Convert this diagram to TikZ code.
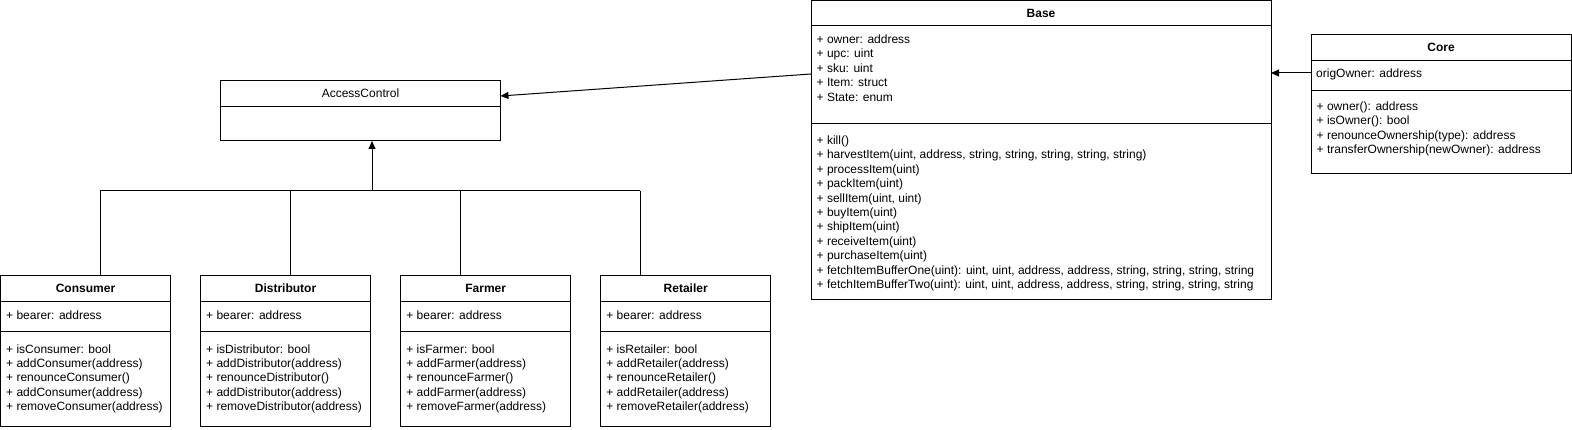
\documentclass[tikz,border=0pt]{standalone}
\usepackage{fontspec}
\setmainfont{Liberation Sans}
\usetikzlibrary{arrows.meta,calc}
\tikzset{
  umlbox/.style={draw, line width=1pt, rectangle, anchor=north west, inner sep=0pt, outer sep=0pt},
  txt/.style={anchor=base west, inner sep=0pt, font=\fontsize{12}{14.4}\selectfont},
  head/.style={anchor=base, inner sep=0pt, font=\fontsize{12}{14.4}\selectfont\bfseries},
  headn/.style={anchor=base, inner sep=0pt, font=\fontsize{12}{14.4}\selectfont},
  sepline/.style={line width=1pt},
  arr/.style={line width=1pt, -{Triangle[length=8pt,width=7pt]}},
  conn/.style={line width=1pt}
}
\newcommand{\umllines}[4]{%
  \foreach \t [count=\i] in {#4} {\node[txt] (#1\i) at (#2, #3+14.4*\i-14.4) {\t};}}
\newcommand{\umlsep}[2]{%
  \draw[sepline] ($(#1.north west)+(0,#2)$) -- ($(#1.north east)+(0,#2)$);}
\begin{document}
\begin{tikzpicture}[x=1pt,y=-1pt]
\useasboundingbox (0,0) rectangle (1572,430);

% ---------- AccessControl ----------
\node[umlbox, minimum width=280pt, minimum height=60pt] (ac) at (220.5,81) {};
\node[headn] (acH) at (360.5,97.5) {AccessControl};
\umlsep{ac}{26}

% ---------- Base ----------
\node[umlbox, minimum width=460pt, minimum height=299pt] (base) at (811,1) {};
\node[head] (baseH) at (1041,18) {Base};
\umlsep{base}{25}
\umlsep{base}{123}
\umllines{ba}{816.5}{43.5}{{+ owner: address},{+ upc: uint},{+ sku: uint},{+ Item: struct},{+ State: enum}}
\umllines{bm}{816.5}{144.5}{{+ kill()},{+ harvestItem(uint, address, string, string, string, string, string)},{+ processItem(uint)},{+ packItem(uint)},{+ sellItem(uint, uint)},{+ buyItem(uint)},{+ shipItem(uint)},{+ receiveItem(uint)},{+ purchaseItem(uint)},{+ fetchItemBufferOne(uint): uint, uint, address, address, string, string, string, string},{+ fetchItemBufferTwo(uint): uint, uint, address, address, string, string, string, string}}

% ---------- Core ----------
\node[umlbox, minimum width=260pt, minimum height=139pt] (core) at (1311,35) {};
\node[head] (coreH) at (1441,52) {Core};
\umlsep{core}{25.5}
\umlsep{core}{55.7}
\umllines{ca}{1316}{78}{{origOwner: address}}
\umllines{cm}{1316.5}{110.5}{{+ owner(): address},{+ isOwner(): bool},{+ renounceOwnership(type): address},{+ transferOwnership(newOwner): address}}

% ---------- Consumer ----------
\node[umlbox, minimum width=170pt, minimum height=150pt] (cons) at (0.5,276) {};
\node[head] (consH) at (85.5,293) {Consumer};
\umlsep{cons}{26}
\umlsep{cons}{56}
\umllines{consa}{6}{320}{{+ bearer: address}}
\umllines{consm}{6}{353}{{+ isConsumer: bool},{+ addConsumer(address)},{+ renounceConsumer()},{+ addConsumer(address)},{+ removeConsumer(address)}}

% ---------- Distributor ----------
\node[umlbox, minimum width=170pt, minimum height=150pt] (dist) at (200.5,276) {};
\node[head] (distH) at (285.5,293) {Distributor};
\umlsep{dist}{26}
\umlsep{dist}{56}
\umllines{dista}{206}{320}{{+ bearer: address}}
\umllines{distm}{206}{353}{{+ isDistributor: bool},{+ addDistributor(address)},{+ renounceDistributor()},{+ addDistributor(address)},{+ removeDistributor(address)}}

% ---------- Farmer ----------
\node[umlbox, minimum width=170pt, minimum height=150pt] (farm) at (400.7,276) {};
\node[head] (farmH) at (485.7,293) {Farmer};
\umlsep{farm}{26}
\umlsep{farm}{56}
\umllines{farma}{406.2}{320}{{+ bearer: address}}
\umllines{farmm}{406.2}{353}{{+ isFarmer: bool},{+ addFarmer(address)},{+ renounceFarmer()},{+ addFarmer(address)},{+ removeFarmer(address)}}

% ---------- Retailer ----------
\node[umlbox, minimum width=170pt, minimum height=150pt] (ret) at (600.7,276) {};
\node[head] (retH) at (685.7,293) {Retailer};
\umlsep{ret}{26}
\umlsep{ret}{56}
\umllines{reta}{606.2}{320}{{+ bearer: address}}
\umllines{retm}{606.2}{353}{{+ isRetailer: bool},{+ addRetailer(address)},{+ renounceRetailer()},{+ addRetailer(address)},{+ removeRetailer(address)}}

% ---------- connectors ----------
\coordinate (busC) at (100,191);
\coordinate (busD) at (290,191);
\coordinate (busM) at (372,191);
\coordinate (busF) at (460,191);
\coordinate (busR) at (640,191);
\draw[conn] (busC) -- (busR);
\draw[arr] (busM) -- (ac.south -| busM);
\draw[conn] (cons.north -| busC) -- (busC);
\draw[conn] (dist.north -| busD) -- (busD);
\draw[conn] (farm.north -| busF) -- (busF);
\draw[conn] (ret.north -| busR) -- (busR);

\draw[arr] ($(base.north west)+(0,73)$) -- ($(ac.north east)+(0,15)$);
\draw[arr] ($(core.north west)+(0,38)$) -- ($(base.north east)+(0,72)$);
\end{tikzpicture}
\end{document}
